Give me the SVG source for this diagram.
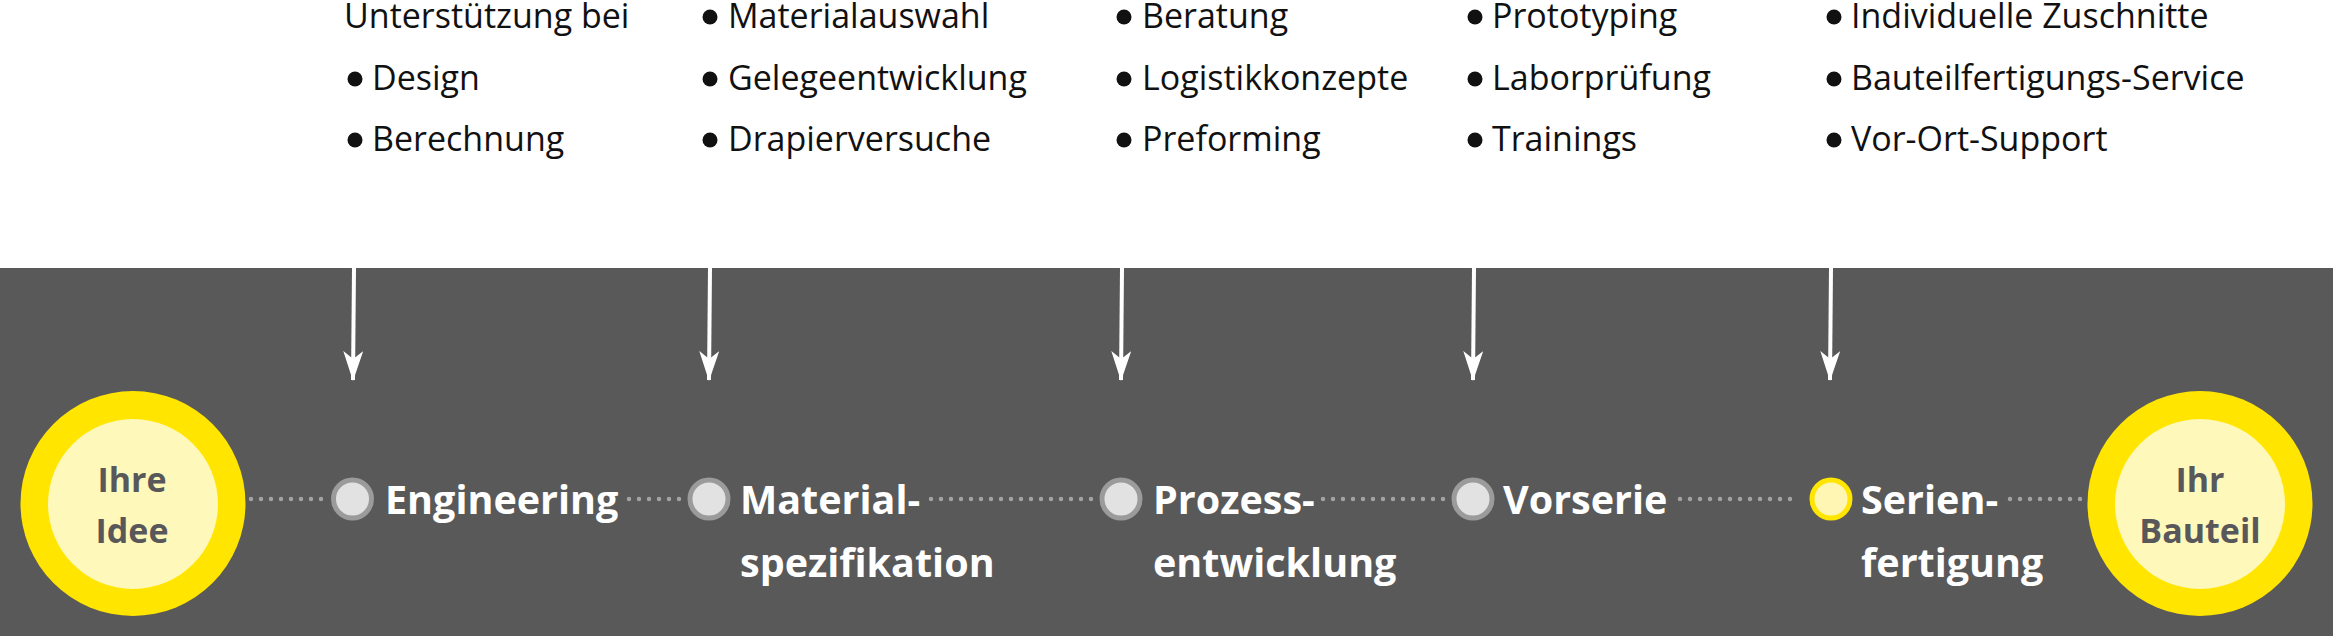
<svg xmlns="http://www.w3.org/2000/svg" width="2333" height="636" viewBox="0 0 2333 636">
<defs>
<style>
.top{font-family:"Open Sans","Noto Sans",sans-serif;font-size:34px;fill:#111111}
.lbl{font-family:"Open Sans","Noto Sans",sans-serif;font-size:39.5px;font-weight:700;fill:#ffffff}
.big{font-family:"Open Sans","Noto Sans",sans-serif;font-size:34px;font-weight:700;fill:#58585a;text-anchor:middle}
.dot{stroke:#a3a3a3;stroke-width:4.5;stroke-linecap:round;stroke-dasharray:0 10;fill:none}
.arr{stroke:#ffffff;stroke-width:4;fill:none}
.step{fill:#e2e2e2;stroke:#9b9b9b;stroke-width:5}
.stepY{fill:#fff6b3;stroke:#ffe500;stroke-width:5}
.outer{fill:#ffe500}
.inner{fill:#fff8bb}
.bul{fill:#111111}
</style>
<marker id="ah" markerUnits="userSpaceOnUse" markerWidth="30" markerHeight="20" refX="29" refY="10" viewBox="0 0 30 20" orient="auto">
<path d="M0,0 L8,10 L0,20 L30,10 Z" fill="#ffffff"/>
</marker>
</defs>
<rect x="0" y="0" width="2333" height="636" fill="#ffffff"/>
<rect x="0" y="268" width="2333" height="368" fill="#595959"/>

<g id="texts-top">
<g id="col1">
<text class="top" x="344" y="28">Unterstützung bei</text>
<circle class="bul" cx="355" cy="79" r="7.5"/><text class="top" x="372" y="90">Design</text>
<circle class="bul" cx="355" cy="140" r="7.5"/><text class="top" x="372" y="151">Berechnung</text>
</g>
<g id="col2">
<circle class="bul" cx="710" cy="17" r="7.5"/><text class="top" x="728" y="28">Materialauswahl</text>
<circle class="bul" cx="710" cy="79" r="7.5"/><text class="top" x="728" y="90">Gelegeentwicklung</text>
<circle class="bul" cx="710" cy="140" r="7.5"/><text class="top" x="728" y="151">Drapierversuche</text>
</g>
<g id="col3">
<circle class="bul" cx="1124" cy="17" r="7.5"/><text class="top" x="1142" y="28">Beratung</text>
<circle class="bul" cx="1124" cy="79" r="7.5"/><text class="top" x="1142" y="90">Logistikkonzepte</text>
<circle class="bul" cx="1124" cy="140" r="7.5"/><text class="top" x="1142" y="151">Preforming</text>
</g>
<g id="col4">
<circle class="bul" cx="1475" cy="17" r="7.5"/><text class="top" x="1492" y="28">Prototyping</text>
<circle class="bul" cx="1475" cy="79" r="7.5"/><text class="top" x="1492" y="90">Laborprüfung</text>
<circle class="bul" cx="1475" cy="140" r="7.5"/><text class="top" x="1492" y="151">Trainings</text>
</g>
<g id="col5">
<circle class="bul" cx="1834" cy="17" r="7.5"/><text class="top" x="1851" y="28">Individuelle Zuschnitte</text>
<circle class="bul" cx="1834" cy="79" r="7.5"/><text class="top" x="1851" y="90">Bauteilfertigungs-Service</text>
<circle class="bul" cx="1834" cy="140" r="7.5"/><text class="top" x="1851" y="151">Vor-Ort-Support</text>
</g>
</g>

<g id="connectors">
<line class="arr" x1="354" y1="268" x2="353" y2="380" marker-end="url(#ah)"/>
<line class="arr" x1="710" y1="268" x2="709" y2="380" marker-end="url(#ah)"/>
<line class="arr" x1="1122" y1="268" x2="1121" y2="380" marker-end="url(#ah)"/>
<line class="arr" x1="1474" y1="268" x2="1473" y2="380" marker-end="url(#ah)"/>
<line class="arr" x1="1831" y1="268" x2="1830" y2="380" marker-end="url(#ah)"/>
<line class="dot" x1="251" y1="499" x2="322" y2="499"/>
<line class="dot" x1="629" y1="499" x2="683" y2="499"/>
<line class="dot" x1="931" y1="499" x2="1095" y2="499"/>
<line class="dot" x1="1323" y1="499" x2="1446" y2="499"/>
<line class="dot" x1="1680" y1="499" x2="1800" y2="499"/>
<line class="dot" x1="2010" y1="499" x2="2082" y2="499"/>
</g>

<g id="start">
<circle class="outer" cx="133" cy="503.5" r="112.5"/>
<circle class="inner" cx="133" cy="504" r="85"/>
<text class="big" x="132" y="492">Ihre</text>
<text class="big" x="132" y="543">Idee</text>
</g>

<g id="engineering">
<circle class="step" cx="352.5" cy="499" r="19"/>
<text class="lbl" x="385" y="514">Engineering</text>
</g>
<g id="materialspezifikation">
<circle class="step" cx="709" cy="499" r="19"/>
<text class="lbl" x="740" y="514">Material-</text>
<text class="lbl" x="740" y="577">spezifikation</text>
</g>
<g id="prozessentwicklung">
<circle class="step" cx="1121" cy="499" r="19"/>
<text class="lbl" x="1153" y="514">Prozess-</text>
<text class="lbl" x="1153" y="577">entwicklung</text>
</g>
<g id="vorserie">
<circle class="step" cx="1473" cy="499" r="19"/>
<text class="lbl" x="1503" y="514">Vorserie</text>
</g>
<g id="serienfertigung">
<circle class="stepY" cx="1831" cy="499" r="19"/>
<text class="lbl" x="1861" y="514">Serien-</text>
<text class="lbl" x="1861" y="577">fertigung</text>
</g>

<g id="end">
<circle class="outer" cx="2200" cy="503.5" r="112.5"/>
<circle class="inner" cx="2200" cy="504" r="85"/>
<text class="big" x="2200" y="492">Ihr</text>
<text class="big" x="2200" y="543">Bauteil</text>
</g>
</svg>
